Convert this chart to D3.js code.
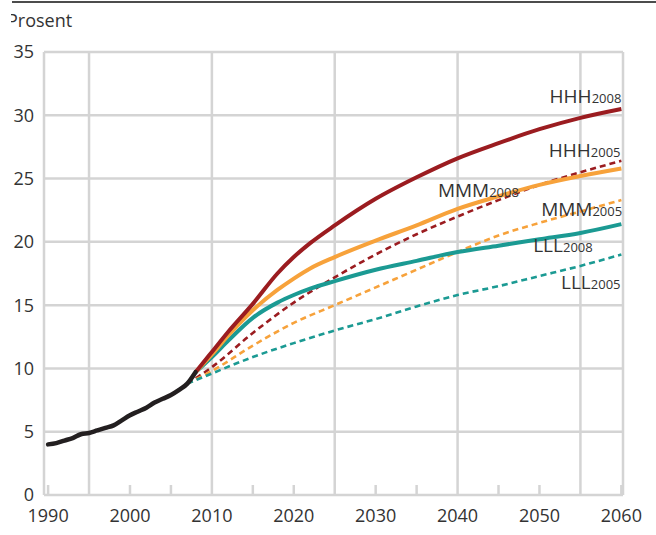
<!DOCTYPE html>
<html>
<head>
<meta charset="utf-8">
<script src="https://cdnjs.cloudflare.com/ajax/libs/d3/7.8.5/d3.min.js"></script>
<style>
  body { margin: 0; background: #fff; }
  text { font-family: "Open Sans", "Noto Sans", sans-serif; fill: #333; }
</style>
</head>
<body>
<div id="chart"></div>
<script>
// data

var histYears = [1990, 1991, 1992, 1993, 1994, 1995, 1996, 1997, 1998, 1999, 2000, 2001, 2002, 2003, 2004, 2005, 2006, 2007, 2008],
    histValues = [4.0, 4.1, 4.3, 4.5, 4.8, 4.9, 5.1, 5.3, 5.5, 5.9, 6.3, 6.6, 6.9, 7.3, 7.6, 7.9, 8.3, 8.8, 9.7];

var years2008 = [2008, 2010, 2012, 2015, 2018, 2020, 2022, 2025, 2030, 2035, 2040, 2045, 2050, 2055, 2060],
    hhh2008 = [9.7, 11.3, 12.9, 15.1, 17.5, 18.8, 19.9, 21.3, 23.4, 25.1, 26.6, 27.8, 28.9, 29.8, 30.5],
    mmm2008 = [9.7, 11.1, 12.6, 14.6, 16.2, 17.1, 17.9, 18.8, 20.1, 21.3, 22.6, 23.6, 24.5, 25.2, 25.8],
    lll2008 = [9.7, 10.9, 12.2, 14.0, 15.2, 15.8, 16.3, 16.9, 17.8, 18.5, 19.2, 19.7, 20.2, 20.7, 21.4];

var years2005 = [2007, 2010, 2015, 2020, 2025, 2030, 2035, 2040, 2045, 2050, 2055, 2060],
    hhh2005 = [8.8, 10.1, 12.8, 15.2, 17.2, 19.0, 20.6, 22.0, 23.3, 24.5, 25.5, 26.4],
    mmm2005 = [8.8, 9.8, 11.8, 13.6, 15.0, 16.4, 17.8, 19.2, 20.5, 21.5, 22.4, 23.3],
    lll2005 = [8.8, 9.6, 10.9, 12.0, 13.0, 13.9, 14.9, 15.8, 16.5, 17.3, 18.1, 19.0];

var yTicks = [0, 5, 10, 15, 20, 25, 30, 35],
    xLabels = [1990, 2000, 2010, 2020, 2030, 2040, 2050, 2060],
    xGrid = [1995, 2010, 2025, 2040, 2055],
    xSmallTicks = [1990, 2000, 2005, 2015, 2020, 2030, 2035, 2045, 2050, 2060];

var seriesNames = ["HHH", "MMM", "LLL"],
    seriesColors = ["#9b1c20", "#f7a23b", "#1b9a93"];

// label spots in data units: [year, value, anchor]
var labels2008 = [[2060, 31.0, "end"], [2037.6, 23.55, "start"], [2056.5, 19.2, "end"]],
    labels2005 = [[2059.9, 26.7, "end"], [2060.1, 22.05, "end"], [2059.9, 16.3, "end"]];

// layout

var width = 656, height = 535;

var x = d3.scaleLinear().domain([1989.5, 2060.2]).range([44, 623]);
var y = d3.scaleLinear().domain([0, 35]).range([495, 52]);

var svg = d3.select("#chart").append("svg")
    .attr("width", width)
    .attr("height", height);

// top rule
svg.append("line")
    .attr("x1", 12).attr("x2", 656)
    .attr("y1", 2).attr("y2", 2)
    .attr("stroke", "#111").attr("stroke-width", 1.5);

svg.append("text")
    .attr("x", 7).attr("y", 27)
    .style("font-size", "18px")
    .text("Prosent");

var grid = svg.append("g").attr("stroke", "#d4d4d4").attr("stroke-width", 2.5);

grid.selectAll(".hgrid")
    .data(yTicks)
    .enter().append("line")
    .attr("x1", x.range()[0]).attr("x2", x.range()[1])
    .attr("y1", function(d) { return y(d); })
    .attr("y2", function(d) { return y(d); });

grid.selectAll(".vgrid")
    .data(xGrid)
    .enter().append("line")
    .attr("x1", function(d) { return x(d); })
    .attr("x2", function(d) { return x(d); })
    .attr("y1", y(0)).attr("y2", y(35));

// frame sides
grid.selectAll(".side")
    .data(x.range())
    .enter().append("line")
    .attr("x1", function(d) { return d; })
    .attr("x2", function(d) { return d; })
    .attr("y1", y(0)).attr("y2", y(35));

grid.selectAll(".tick")
    .data(xSmallTicks)
    .enter().append("line")
    .attr("x1", function(d) { return x(d); })
    .attr("x2", function(d) { return x(d); })
    .attr("y1", y(0)).attr("y2", y(0) - 10);

svg.selectAll(".ylab")
    .data(yTicks)
    .enter().append("text")
    .attr("x", 34)
    .attr("y", function(d) { return y(d); })
    .attr("dy", "0.36em")
    .attr("text-anchor", "end")
    .style("font-size", "18px")
    .text(function(d) { return d; });

svg.selectAll(".xlab")
    .data(xLabels)
    .enter().append("text")
    .attr("x", function(d) { return x(d); })
    .attr("y", 522)
    .attr("text-anchor", "middle")
    .style("font-size", "18px")
    .text(function(d) { return d; });

var line = d3.line()
    .x(function(d) { return x(d[0]); })
    .y(function(d) { return y(d[1]); })
    .curve(d3.curveMonotoneX);

function pairs(xs, vs) {
    return xs.map(function(yr, i) { return [yr, vs[i]]; });
}

var dashed = [hhh2005, mmm2005, lll2005],
    solid = [hhh2008, mmm2008, lll2008];

dashed.forEach(function(vals, i) {
    svg.append("path")
        .attr("d", line(pairs(years2005, vals)))
        .attr("fill", "none")
        .attr("stroke", seriesColors[i])
        .attr("stroke-width", 2.6)
        .attr("stroke-dasharray", "6,4");
});

// draw low first so high sits on top
[2, 1, 0].forEach(function(i) {
    svg.append("path")
        .attr("d", line(pairs(years2008, solid[i])))
        .attr("fill", "none")
        .attr("stroke", seriesColors[i])
        .attr("stroke-width", 4)
        .attr("stroke-linejoin", "round");
});

svg.append("path")
    .attr("d", line(pairs(histYears, histValues)))
    .attr("fill", "none")
    .attr("stroke", "#231f20")
    .attr("stroke-width", 4.5)
    .attr("stroke-linecap", "round");

function addLabel(spot, name, sub) {
    var t = svg.append("text")
        .attr("x", x(spot[0]))
        .attr("y", y(spot[1]))
        .attr("text-anchor", spot[2])
        .style("font-size", "19px");
    t.append("tspan").text(name);
    t.append("tspan").style("font-size", "13px").text(sub);
}

seriesNames.forEach(function(n, i) {
    addLabel(labels2008[i], n, "2008");
    addLabel(labels2005[i], n, "2005");
});

// picture is cut a little on the left
svg.append("rect")
    .attr("x", 0).attr("y", 0)
    .attr("width", 11).attr("height", 70)
    .attr("fill", "#fff");
</script>
</body>
</html>
